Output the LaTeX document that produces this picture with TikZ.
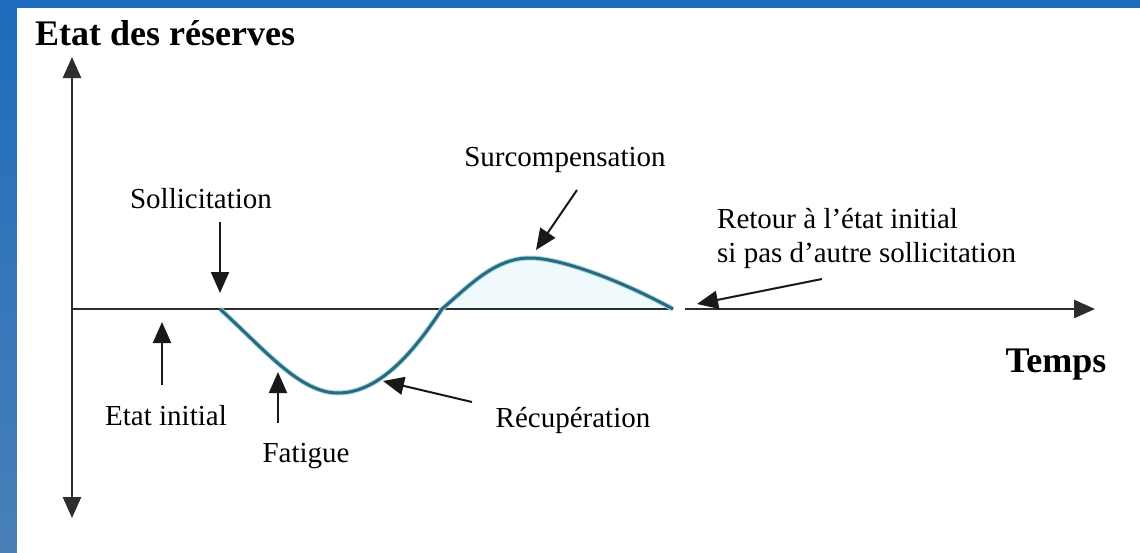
\documentclass[tikz,border=0pt]{standalone}
\usepackage{fontspec}
\setmainfont{Liberation Serif}
\usetikzlibrary{arrows.meta}
\definecolor{cadrebleu}{RGB}{30,108,188}
\definecolor{cadreclair}{RGB}{74,128,184}
\definecolor{courbe}{RGB}{46,104,126}
\definecolor{halo}{RGB}{160,220,230}
\definecolor{remplis}{RGB}{240,250,252}
\definecolor{axe}{RGB}{45,45,45}

\begin{document}
\begin{tikzpicture}[x=1pt, y=-1pt, >={Triangle[length=21pt,width=18pt]}]
		\tikzstyle{etiq}=[font=\fontsize{29}{34}\selectfont, inner sep=0pt, anchor=base]
		\tikzstyle{titre}=[font=\fontsize{36}{40}\selectfont\bfseries, inner sep=0pt, anchor=base]
		\tikzstyle{fleche}=[->, line width=2pt, draw=black!90]
		\tikzstyle{axes}=[line width=2.6pt, draw=axe]
		\tikzstyle{trace}=[line width=3pt, draw=courbe, line join=round]
		
		% Cadre bleu
		\useasboundingbox (0,0) rectangle (1140,552);
		\shade[top color=cadrebleu, bottom color=cadreclair] (0,0) rectangle (1140,552);
		\fill[white] (17,8) rectangle (1145,560);
		
		% Axes
		\coordinate (O) at (72,309);
		\coordinate (yhaut) at (72,57);
		\coordinate (ybas) at (72,518);
		\coordinate (xcoupe) at (685,309);
		\coordinate (xfin) at (1095,309);
		
		% Points de la courbe
		\coordinate (s0) at (220,309);
		\coordinate (creux) at (338,393);
		\coordinate (s1) at (442,309);
		\coordinate (pic) at (530,258);
		\coordinate (s2) at (673,309);
		
		% Surcompensation (remplissage)
		\fill[remplis] (s1) .. controls (470,285) and (495,258) .. (pic)
			.. controls (560,258) and (620,280) .. (s2) -- cycle;
		
		\draw[axes, ->] (O) -- (yhaut);
		\draw[axes, ->] (O) -- (ybas);
		\draw[axes] (O) -- (s2);
		\draw[axes, ->] (xcoupe) -- (xfin);
		
		% Courbe
		\draw[trace, draw=halo, line width=5pt] (s0) .. controls (265,350) and (300,393) .. (creux)
			.. controls (380,393) and (415,350) .. (s1)
			.. controls (470,285) and (495,258) .. (pic)
			.. controls (560,258) and (620,280) .. (s2);
		\draw[trace] (s0) .. controls (265,350) and (300,393) .. (creux)
			.. controls (380,393) and (415,350) .. (s1)
			.. controls (470,285) and (495,258) .. (pic)
			.. controls (560,258) and (620,280) .. (s2);
		
		% Titres des axes
		\node[titre, anchor=base west] (reserves) at (35,45) {Etat des réserves};
		\node[titre] (temps) at (1056,372) {Temps};
		
		% Etiquettes
		\node[etiq] (sollic) at (201,208) {Sollicitation};
		\node[etiq] (initial) at (166,425) {Etat initial};
		\node[etiq] (fatigue) at (306,462) {Fatigue};
		\node[etiq] (recup) at (573,427) {Récupération};
		\node[etiq] (surcomp) at (565,166) {Surcompensation};
		\node[etiq, anchor=base west, align=left] (retour) at (717,262) {Retour à l'état initial\\si pas d'autre sollicitation};
		
		% Flèches
		\coordinate (sollicA) at (220,222);
		\coordinate (sollicB) at (220,293);
		\coordinate (initialA) at (162,385);
		\coordinate (initialB) at (162,322);
		\coordinate (fatigueA) at (278,423);
		\coordinate (fatigueB) at (278,372);
		\coordinate (recupA) at (472,402);
		\coordinate (recupB) at (383,381);
		\coordinate (surcompA) at (577,190);
		\coordinate (surcompB) at (536,250);
		\coordinate (retourA) at (822,279);
		\coordinate (retourB) at (697,304);
		
		\draw[fleche] (sollicA) -- (sollicB);
		\draw[fleche] (initialA) -- (initialB);
		\draw[fleche] (fatigueA) -- (fatigueB);
		\draw[fleche] (recupA) -- (recupB);
		\draw[fleche] (surcompA) -- (surcompB);
		\draw[fleche] (retourA) -- (retourB);
		
	\end{tikzpicture}
\end{document}
